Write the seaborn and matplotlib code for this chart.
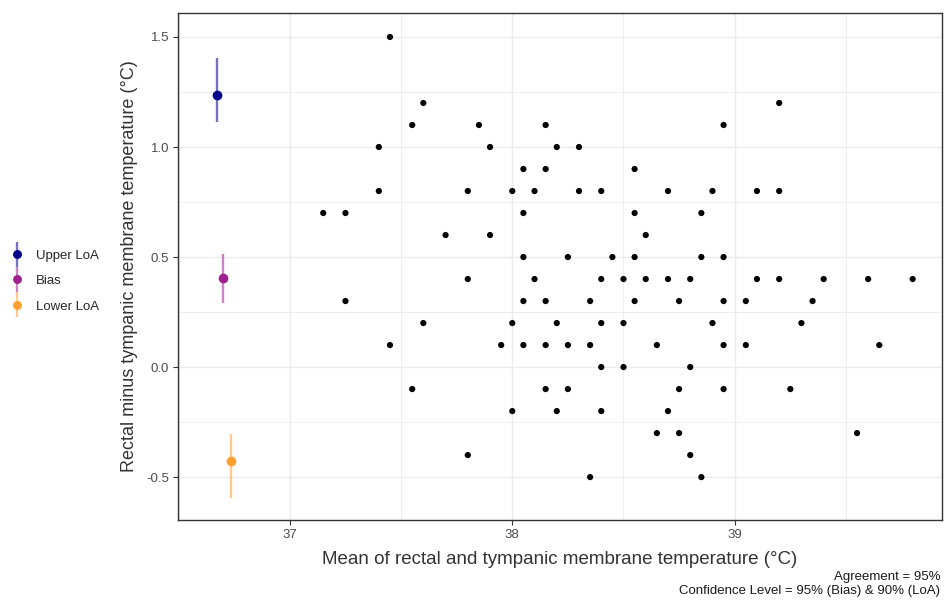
import numpy as np
import pandas as pd
import matplotlib
matplotlib.use("Agg")
import matplotlib.pyplot as plt
import seaborn as sns
from matplotlib.ticker import MultipleLocator
from matplotlib.legend_handler import HandlerErrorbar

# ---- data ----
diff_levels = [1.5, 1.2, 1.1, 1.0, 0.9, 0.8, 0.7, 0.6, 0.5, 0.4, 0.3, 0.2, 0.1, 0.0, -0.1, -0.2, -0.3, -0.4, -0.5]
means_by_level = [
    [37.45],
    [37.6, 39.2],
    [37.55, 37.85, 38.15, 38.95],
    [37.4, 37.9, 38.2, 38.3],
    [38.05, 38.15, 38.55],
    [37.4, 37.8, 38.0, 38.1, 38.3, 38.4, 38.7, 38.9, 39.1, 39.2],
    [37.15, 37.25, 38.05, 38.55, 38.85],
    [37.7, 37.9, 38.6],
    [38.05, 38.25, 38.45, 38.55, 38.85, 38.95],
    [37.8, 38.1, 38.4, 38.5, 38.6, 38.7, 38.8, 39.1, 39.2, 39.4, 39.6, 39.8],
    [37.25, 38.05, 38.15, 38.35, 38.55, 38.75, 38.95, 39.05, 39.35],
    [37.6, 38.0, 38.2, 38.4, 38.5, 38.9, 39.3],
    [37.45, 37.95, 38.05, 38.15, 38.25, 38.35, 38.65, 38.95, 39.05, 39.65],
    [38.4, 38.5, 38.8],
    [37.55, 38.15, 38.25, 38.75, 38.95, 39.25],
    [38.0, 38.2, 38.4, 38.7],
    [38.65, 38.75, 39.55],
    [37.8, 38.8],
    [38.35, 38.85],
]

loa_names = ["Upper LoA", "Bias", "Lower LoA"]
loa_x = [36.672, 36.699, 36.735]
loa_est = [1.236, 0.405, -0.427]
loa_lower = [1.114, 0.291, -0.595]
loa_upper = [1.405, 0.514, -0.305]
loa_colors = ["#00008B", "#A0208F", "#FFA030"]

x_ticks = [37, 38, 39]
y_ticks = [-0.5, 0.0, 0.5, 1.0, 1.5]

xlabel = "Mean of rectal and tympanic membrane temperature (°C)"
ylabel = "Rectal minus tympanic membrane temperature (°C)"
caption = "Agreement = 95%\nConfidence Level = 95% (Bias) & 90% (LoA)"

# ---- build table ----
rows = []
for d, ms in zip(diff_levels, means_by_level):
    for m in ms:
        rows.append({"mean": m, "diff": d})
df = pd.DataFrame(rows)

sns.set_theme(style="white")
plt.rcParams["font.family"] = ["Liberation Sans", "DejaVu Sans"]

fig = plt.figure(figsize=(9.44, 6.0), dpi=100)
ax = fig.add_axes([178 / 944, 1 - 520 / 600, (942 - 178) / 944, (520 - 13) / 600])

# grid (theme_bw style)
ax.set_axisbelow(True)
ax.xaxis.set_major_locator(MultipleLocator(1))
ax.xaxis.set_minor_locator(MultipleLocator(0.5))
ax.yaxis.set_major_locator(MultipleLocator(0.5))
ax.yaxis.set_minor_locator(MultipleLocator(0.25))
ax.grid(which="major", color="#EBEBEB", linewidth=1.0)
ax.grid(which="minor", color="#EBEBEB", linewidth=0.6)

sns.scatterplot(data=df, x="mean", y="diff", color="black", s=20, edgecolor="none", ax=ax, zorder=3)

handles = []
for name, x, est, lo, hi, c in zip(loa_names, loa_x, loa_est, loa_lower, loa_upper, loa_colors):
    h = ax.errorbar([x], [est], yerr=[[est - lo], [hi - est]], fmt="o", color=c,
                    markersize=6, ecolor=matplotlib.colors.to_rgba(c, 0.55), elinewidth=1.7,
                    capsize=0, label=name, zorder=4)
    handles.append(h)

ax.set_xlim(36.497, 39.932)
ax.set_ylim(-0.695, 1.609)
ax.set_xticks(x_ticks)
ax.set_xticklabels([str(t) for t in x_ticks])
ax.set_yticks(y_ticks)
ax.set_yticklabels([f"{t:.1f}" for t in y_ticks])

for s in ax.spines.values():
    s.set_color("#333333")
    s.set_linewidth(1.0)
ax.tick_params(axis="both", which="major", length=3.5, width=0.8, color="#333333",
               labelcolor="#4D4D4D", labelsize=9.5, pad=3, direction="out",
               bottom=True, left=True)
ax.tick_params(axis="both", which="minor", length=0)

ax.set_xlabel(xlabel, fontsize=13.5, color="#333333", labelpad=7)
ax.set_ylabel(ylabel, fontsize=13, color="#333333", labelpad=6)

fig.legend(handles=handles, labels=loa_names, loc="center left",
           bbox_to_anchor=(0.0, 1 - 281 / 600), frameon=False, fontsize=9.5,
           handlelength=1.0, handletextpad=0.9, labelspacing=1.0, borderaxespad=0.4,
           markerscale=0.9,
           handler_map={type(handles[0]): HandlerErrorbar(xerr_size=0.95)})

fig.text(940 / 944, 1 - 571 / 600, caption, ha="right", va="top", fontsize=9.5,
         color="#1A1A1A", linespacing=1.2)

fig.savefig("out.png", dpi=100)
